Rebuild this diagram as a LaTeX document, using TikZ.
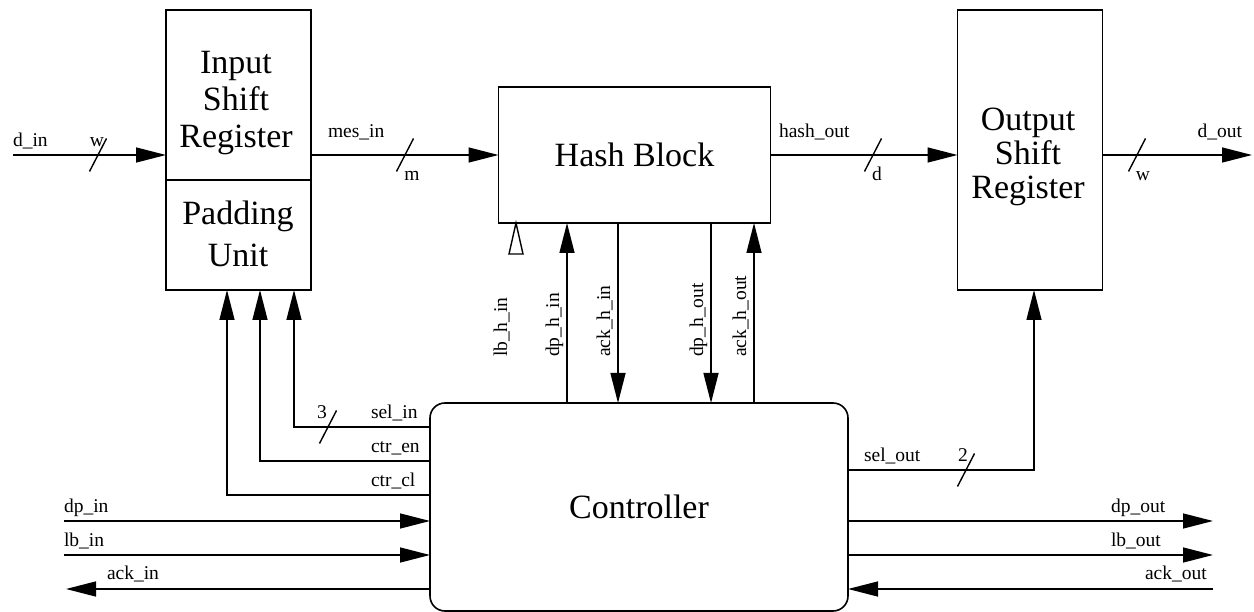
\documentclass[tikz,border=0pt]{standalone}
\usepackage{fontspec}
\setmainfont{Liberation Serif}
\usetikzlibrary{arrows.meta}
\begin{document}
\begin{tikzpicture}[x=1pt,y=-1pt,
  every node/.style={inner sep=0pt,outer sep=0pt},
  box/.style={draw,line width=1.6pt,align=center,font=\fontsize{34}{37}\selectfont},
  sig/.style={line width=1.4pt,-{Triangle[length=30pt,width=15pt]}},
  wire/.style={line width=1.4pt},
  openhead/.style={line width=1.4pt,line join=miter},
  lbl/.style={font=\fontsize{19.5}{22}\selectfont},
  vlbl/.style={lbl,rotate=90,anchor=base west},
  busmark/.style={line width=1.4pt}
]
\useasboundingbox (0,0) rectangle (1254,612);

% blocks
\node[box,minimum width=145pt,minimum height=170pt] (isr) at (238.5,95) {};
\node[font=\fontsize{34}{37}\selectfont,align=center] (isrt) at (236,103) {Input\\Shift\\Register};
\node[box,minimum width=145pt,minimum height=110pt] (pad) at (238.5,235) {};
\node[font=\fontsize{34}{42}\selectfont,align=center] (padt) at (238,234) {Padding\\Unit};
\node[box,minimum width=272pt,minimum height=136pt] (hash) at (634.5,155) {Hash Block};
\node[box,minimum width=145pt,minimum height=280pt] (osr) at (1030,150) {};
\node[font=\fontsize{34}{34}\selectfont,align=center] (osrt) at (1028,157) {Output\\Shift\\Register};
\node[box,rounded corners=15pt,minimum width=418pt,minimum height=208pt] (ctrl) at (639,507) {Controller};

% free ends
\coordinate (din) at (13,155);
\coordinate (dout) at (1252,155);
\coordinate (dpin) at (64,521);
\coordinate (lbin) at (64,555);
\coordinate (ackin) at (66,589);
\coordinate (dpout) at (1213,521);
\coordinate (lbout) at (1213,555);
\coordinate (ackout) at (1213,589);
\coordinate (lbh) at (516,253);

% data path
\draw[sig] (din) -- (din -| isr.west);
\draw[sig] (hash.west -| isr.east) -- (hash.west);
\draw[sig] (hash.east) -- (hash.east -| osr.west);
\draw[sig] (osr.east |- dout) -- (dout);

% bus slashes
\foreach \p in {(98,155),(405,155),(873,155),(1137,155),(328,427),(966,470)}
  \draw[busmark] \p ++(-8.5,16.5) -- ++(17,-33);

% data labels
\node[lbl,anchor=base west] at (13,147) {d\_in};
\node[lbl,anchor=base] at (97,147) {w};
\node[lbl,anchor=base west] at (328,138) {mes\_in};
\node[lbl,anchor=base] at (412,181) {m};
\node[lbl,anchor=base west] at (779,138) {hash\_out};
\node[lbl,anchor=base] at (877,181) {d};
\node[lbl,anchor=base] at (1143,181) {w};
\node[lbl,anchor=base east] at (1242,138) {d\_out};

% hash <-> controller
\draw[openhead] (hash.south -| lbh) -- ++(-7,31) -- ++(14,0) -- cycle;
\draw[sig] (ctrl.north -| 567,0) -- (hash.south -| 567,0);
\draw[sig] (hash.south -| 618,0) -- (ctrl.north -| 618,0);
\draw[sig] (hash.south -| 711,0) -- (ctrl.north -| 711,0);
\draw[sig] (ctrl.north -| 754,0) -- (hash.south -| 754,0);
\node[vlbl] at (507,357) {lb\_h\_in};
\node[vlbl] at (559,357) {dp\_h\_in};
\node[vlbl] at (610,357) {ack\_h\_in};
\node[vlbl] at (703,357) {dp\_h\_out};
\node[vlbl] at (746,357) {ack\_h\_out};

% controller -> padding unit
\draw[sig] (ctrl.west |- 0,427) -| (pad.south -| 294,0);
\draw[sig] (ctrl.west |- 0,461) -| (pad.south -| 260,0);
\draw[sig] (ctrl.west |- 0,495) -| (pad.south -| 227,0);
\node[lbl,anchor=base] at (322,418) {3};
\node[lbl,anchor=base west] at (371,418) {sel\_in};
\node[lbl,anchor=base west] at (371,453) {ctr\_en};
\node[lbl,anchor=base west] at (371,486) {ctr\_cl};

% controller left side
\draw[sig] (dpin) -- (ctrl.west |- dpin);
\draw[sig] (lbin) -- (ctrl.west |- lbin);
\draw[sig] (ctrl.west |- ackin) -- (ackin);
\node[lbl,anchor=base west] at (64,512) {dp\_in};
\node[lbl,anchor=base west] at (64,546) {lb\_in};
\node[lbl,anchor=base west] at (107,579) {ack\_in};

% controller right side
\draw[sig] (ctrl.east |- 0,470) -| (osr.south -| 1034,0);
\draw[sig] (ctrl.east |- dpout) -- (dpout);
\draw[sig] (ctrl.east |- lbout) -- (lbout);
\draw[sig] (ackout) -- (ctrl.east |- ackout);
\node[lbl,anchor=base west] at (864,461) {sel\_out};
\node[lbl,anchor=base] at (963,461) {2};
\node[lbl,anchor=base west] at (1111,512) {dp\_out};
\node[lbl,anchor=base west] at (1111,546) {lb\_out};
\node[lbl,anchor=base west] at (1145,579) {ack\_out};
\end{tikzpicture}
\end{document}
